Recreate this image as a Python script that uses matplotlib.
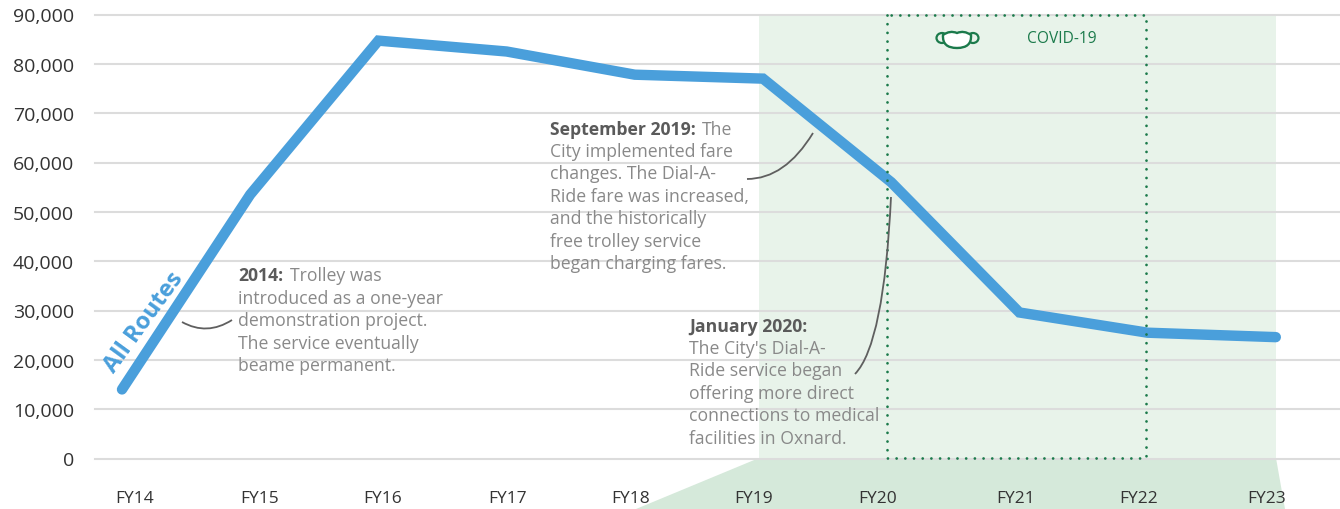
import matplotlib
matplotlib.use("Agg")
import matplotlib.pyplot as plt
from matplotlib.patches import Polygon, Rectangle, PathPatch, Ellipse
from matplotlib.path import Path
from matplotlib.lines import Line2D
from matplotlib.transforms import Affine2D

plt.rcParams['font.family'] = ['Open Sans', 'DejaVu Sans']

# data
years = ["FY14", "FY15", "FY16", "FY17", "FY18", "FY19", "FY20", "FY21", "FY22", "FY23"]
riders = [14000, 53500, 84700, 82500, 77800, 77000, 56000, 29600, 25500, 24600]
yticks = list(range(0, 90001, 10000))

W, H = 1340, 510
BLUE = "#4A9FDB"
GREEN = "#1B7A4B"
GREY = "#898989"
BOLD = "#5A5A5A"

fig = plt.figure(figsize=(W / 100, H / 100), dpi=100)
# pixel coords of the reference, y going down
px = Affine2D().scale(1 / W, -1 / H).translate(0, 1) + fig.transFigure

ax = fig.add_axes([95 / W, 1 - 459.5 / H, (W - 95) / W, (459 - 15) / H])
x0, step = 122, 128.2
ax.set_xlim((95 - x0) / step, (W - x0) / step)
ax.set_ylim(0, 90000)

# tick labels in the original are not centred on the points
label_px = [135, 260, 383, 508, 631, 754, 878, 1016, 1139, 1267]
ax.set_xticks([(p - x0) / step for p in label_px])
ax.set_xticklabels(years, fontsize=12.5, color="#333333")
ax.tick_params(axis='x', length=0, pad=23)
ax.set_yticks(yticks)
ax.set_yticklabels([f"{v:,}" for v in yticks], fontsize=14, color="#333333")
ax.tick_params(axis='y', length=0, pad=15)
for s in ax.spines.values():
    s.set_visible(False)
ax.patch.set_alpha(0)
ax.set_axisbelow(True)
ax.grid(axis='y', color="#DCDCDC", lw=1.5)
for g in ax.get_ygridlines():
    g.set_clip_on(False)
    g.set_zorder(1)

# covid shading
fig.add_artist(Rectangle((759, 15), 517, 444, transform=px, fc="#E8F3EA", ec="none", zorder=-2))
fig.add_artist(Polygon([(759, 459), (1276, 459), (1285, 510), (636, 510)], transform=px,
                       fc="#D5E9DA", ec="none", zorder=-2))
ax.set_zorder(1)

ax.plot(range(len(riders)), riders, color=BLUE, lw=7.5, solid_capstyle='round',
        solid_joinstyle='miter', zorder=5, clip_on=False)

# dotted box, round dots about 8.7 px apart
fig.add_artist(Line2D([887, 887, 1146, 1146, 887], [16, 459, 459, 16, 16], transform=px, color=GREEN,
                      lw=2.0, ls=(0, (0.01, 3.12)), dash_capstyle='round', zorder=6))

def t(x, y, s, color=GREY, weight='normal', size=12.7, **kw):
    fig.text(x, y, s, transform=px, color=color, fontweight=weight, fontsize=size, va='center', zorder=7, **kw)

t(144, 323, "All Routes", color=BLUE, weight='bold', size=17, rotation=54, ha='center', rotation_mode='anchor')

t(238, 276.5, "2014:", color=BOLD, weight='bold')
t(290, 276.5, "Trolley was")
for y, s in zip([299.5, 321.5, 344.5, 366.5], ["introduced as a one-year", "demonstration project.",
                                               "The service eventually", "beame permanent."]):
    t(238, y, s)

t(550, 130.5, "September 2019:", color=BOLD, weight='bold')
t(702, 130.5, "The")
for y, s in zip([152.5, 174.5, 197.5, 219.5, 242.5, 264.5],
                ["City implemented fare", "changes. The Dial-A-", "Ride fare was increased,",
                 "and the historically", "free trolley service", "began charging fares."]):
    t(550, y, s)

t(689, 327.5, "January 2020:", color=BOLD, weight='bold')
for y, s in zip([349.5, 371.5, 394.5, 416.5, 439.5], ["The City's Dial-A-", "Ride service began", "offering more direct",
                                                      "connections to medical", "facilities in Oxnard."]):
    t(689, y, s)

t(1027, 39, "COVID-19", color=GREEN, size=11.2)

# leader curves
for pts in [[(182, 323), (207, 337), (232, 321)],
            [(813, 134), (785, 180), (747, 180)],
            [(891, 198), (884, 345), (855, 375)]]:
    fig.add_artist(PathPatch(Path(pts, [Path.MOVETO, Path.CURVE3, Path.CURVE3]), transform=px, fc="none",
                             ec="#5F5F5F", lw=1.3, zorder=6))

# mask icon
mask = Path([(943, 36), (950, 31), (957, 34), (964, 31), (971, 36), (972, 49), (957, 49), (942, 49), (943, 36), (943, 36)],
            [Path.MOVETO, Path.CURVE3, Path.CURVE3, Path.CURVE3, Path.CURVE3, Path.CURVE3, Path.CURVE3, Path.CURVE3,
             Path.CURVE3, Path.CLOSEPOLY])
fig.add_artist(Ellipse((942, 39), 11, 10, transform=px, fc="none", ec=GREEN, lw=1.6, zorder=6))
fig.add_artist(Ellipse((973, 39), 11, 10, transform=px, fc="none", ec=GREEN, lw=1.6, zorder=6))
fig.add_artist(PathPatch(mask, transform=px, fc="white", ec=GREEN, lw=1.7, zorder=7))

fig.savefig("out.png", dpi=100)
